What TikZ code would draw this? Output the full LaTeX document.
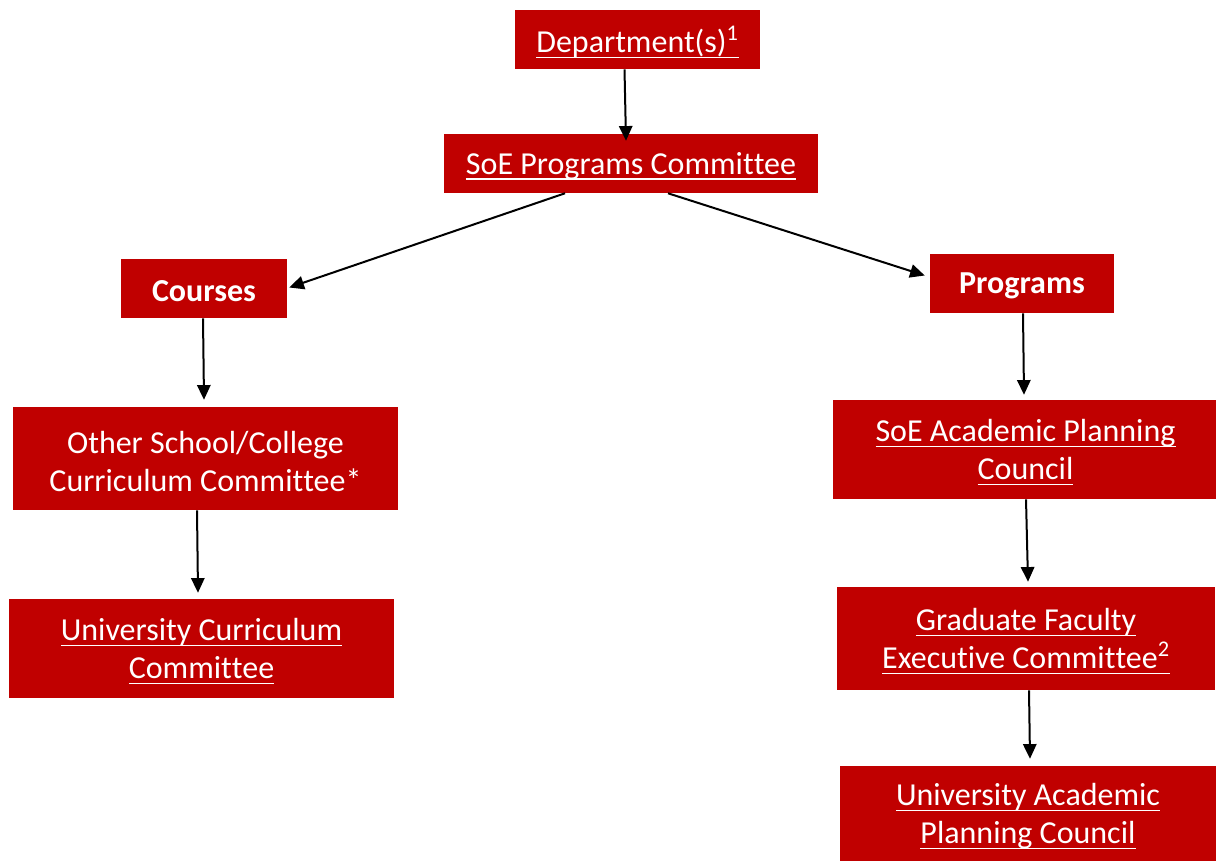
\documentclass[tikz,border=0pt]{standalone}
\usepackage{fontspec}
\setmainfont[Ligatures={NoCommon,NoContextual},Contextuals=NoAlternate,RawFeature={-liga}]{Carlito}
\usetikzlibrary{arrows.meta,calc}
\definecolor{boxred}{HTML}{C00000}
\newcommand\Cmte{Commit\kern0pt tee}
\newcommand\dn[1]{\raisebox{-2pt}[\height][\depth]{#1}}
\newcommand\myul[1]{\dn{\setbox0\hbox{#1}\rlap{\rule[-4.5pt]{\wd0}{1.3pt}}\box0}}
\tikzset{
  box/.style={fill=boxred, draw=none, text=white, align=center, inner sep=0pt,
    font=\fontsize{24}{28.5}\selectfont},
  boldbox/.style={box, font=\fontsize{24}{28.5}\selectfont\bfseries},
  arr/.style={-{Triangle[length=11pt,width=10pt]}, line width=1.5pt, black},
}
\begin{document}
\begin{tikzpicture}[x=0.75pt,y=-0.75pt]
\useasboundingbox (0,0) rectangle (1216,861);
\node[box, minimum width=245*0.75pt, minimum height=59*0.75pt] (dept) at (637.5,39.5) {\myul{Department(s)\textsuperscript{1}}};
\node[box, minimum width=374*0.75pt, minimum height=59*0.75pt] (soe) at (631,163.5) {\myul{SoE Programs \Cmte}};
\node[boldbox, minimum width=166*0.75pt, minimum height=59*0.75pt] (courses) at (204,288.5) {\dn{Courses}};
\node[boldbox, minimum width=184*0.75pt, minimum height=59*0.75pt] (programs) at (1022,283.5) {\dn{Programs}};
\node[box, minimum width=385*0.75pt, minimum height=103*0.75pt] (other) at (205.5,458.5) {\dn{Other School/College}\\\dn{Curriculum \Cmte*}};
\node[box, minimum width=385*0.75pt, minimum height=99*0.75pt] (ucc) at (201.5,648.5) {\myul{University Curriculum}\\\myul{\Cmte}};
\node[box, minimum width=385*0.75pt, minimum height=99*0.75pt] (apc) at (1025.5,449.5) {\myul{SoE Academic Planning}\\\myul{Council}};
\node[box, minimum width=378*0.75pt, minimum height=103*0.75pt] (gfec) at (1026,638.5) {\myul{Graduate Faculty}\\\myul{Executive \Cmte\textsuperscript{2}}};
\node[box, minimum width=376*0.75pt, minimum height=95*0.75pt] (uapc) at (1028,813.5) {\myul{University Academic}\\\myul{Planning Council}};

\draw[arr] ($(dept.south)+(-13,0)$) -- ($(soe.north)+(-5,7)$);
\draw[arr] ($(soe.south)+(-66,0)$) -- ($(courses.east)+(2,-1)$);
\draw[arr] ($(soe.south)+(37,0)$) -- ($(programs.west)+(-5,-8)$);
\draw[arr] ($(courses.south)+(-1,0)$) -- ($(other.north)+(-1.5,-7)$);
\draw[arr] ($(other.south)+(-8.5,0)$) -- ($(ucc.north)+(-3.5,-6)$);
\draw[arr] ($(programs.south)+(1,0)$) -- ($(apc.north)+(-1.5,-5)$);
\draw[arr] ($(apc.south)+(0.5,0)$) -- ($(gfec.north)+(2,-5)$);
\draw[arr] ($(gfec.south)+(3,0)$) -- ($(uapc.north)+(2,-7)$);
\end{tikzpicture}
\end{document}
